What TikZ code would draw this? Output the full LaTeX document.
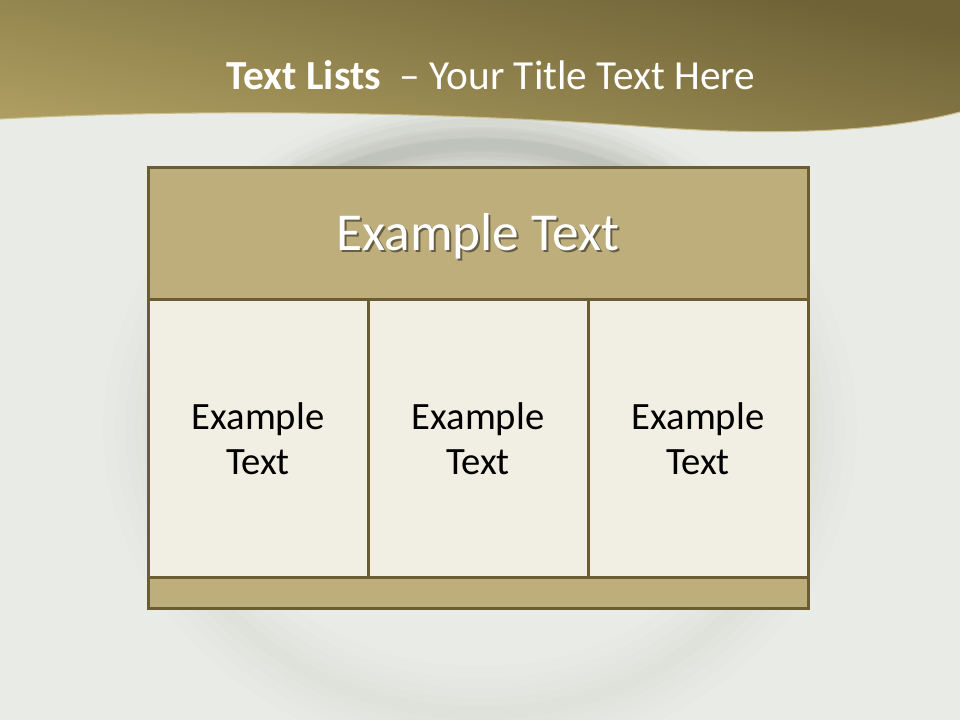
\documentclass[tikz,border=0pt]{standalone}
\usepackage{fontspec}
\setmainfont{Carlito}
\definecolor{slidebg}{HTML}{E9ECE6}
\definecolor{platedark}{HTML}{8E9088}
\definecolor{bandtop}{HTML}{6E6236}
\definecolor{bandlow}{HTML}{AD9D60}
\definecolor{bandedge}{HTML}{CBBD8C}
\definecolor{tbltan}{HTML}{BEAE7B}
\definecolor{tblborder}{HTML}{6B5D33}
\definecolor{tblcell}{HTML}{F1EFE4}

\begin{document}
\begin{tikzpicture}[x=0.75pt, y=-0.75pt,
        box/.style = {rectangle, draw=tblborder, line width=2.25pt, inner sep=0pt, align=center},
        head/.style = {box, fill=tbltan, minimum width=495pt, minimum height=99pt},
        headtext/.style = {text=white, font=\fontsize{40}{46}\selectfont},
        cell/.style = {box, fill=tblcell, minimum width=165pt, minimum height=207.75pt, text=black, font=\fontsize{29}{34}\selectfont},
        foot/.style = {box, fill=tbltan, minimum width=495pt, minimum height=23.25pt},
        titletext/.style = {text=white, font=\fontsize{31}{36}\selectfont}
    ]
    \useasboundingbox (0,0) rectangle (960,720);

    % ================= FONDO =================
    \fill[slidebg] (0,0) rectangle (960,720);
    % sombra del plato
    \foreach \w/\o in {70/0.015, 52/0.02, 36/0.02, 22/0.025, 10/0.025}
        \draw[line width=\w pt, draw=platedark, opacity=\o] (480,428) ellipse [x radius=330, y radius=285];
    \foreach \w/\o in {60/0.045, 40/0.055, 22/0.065, 10/0.065}
        \draw[line width=\w pt, draw=platedark, opacity=\o, line cap=round]
            (480,430) ++(210:330 and 285) arc [start angle=210, end angle=330, x radius=330, y radius=285];
    \foreach \w/\o in {50/0.05, 30/0.06, 14/0.06}
        \draw[line width=\w pt, draw=platedark, opacity=\o, line cap=round]
            (480,432) ++(240:330 and 285) arc [start angle=240, end angle=300, x radius=330, y radius=285];

    % ================= BANDA SUPERIOR =================
    \shade[top color=bandtop, bottom color=bandlow, shading angle=-12]
        (0,0) -- (960,0) -- (960,112)
        .. controls (900,128) and (800,138) .. (650,127)
        .. controls (450,112) and (200,108) .. (0,119) -- cycle;
    \draw[bandedge, line width=0.8pt] (960,112)
        .. controls (900,128) and (800,138) .. (650,127)
        .. controls (450,112) and (200,108) .. (0,119);

    \node[titletext] (title) at (491,75) {\textbf{Text Lists}\ \ – Your Title Text Here};

    % ================= TABLA =================
    \node[head] (hdr) at (478,234) {};
    \node[headtext, text=black, opacity=0.45] (hdrshadow) at ([shift={(1.5pt,-3.5pt)}]hdr.center) {Example Text};
    \node[headtext] (hdrlabel) at ([yshift=-2pt]hdr.center) {Example Text};

    \node[cell] (colA) at (258,438.5) {Example\\Text};
    \node[cell] (colB) at (478,438.5) {Example\\Text};
    \node[cell] (colC) at (698,438.5) {Example\\Text};

    \node[foot] (ftr) at (478,592.5) {};

\end{tikzpicture}
\end{document}
